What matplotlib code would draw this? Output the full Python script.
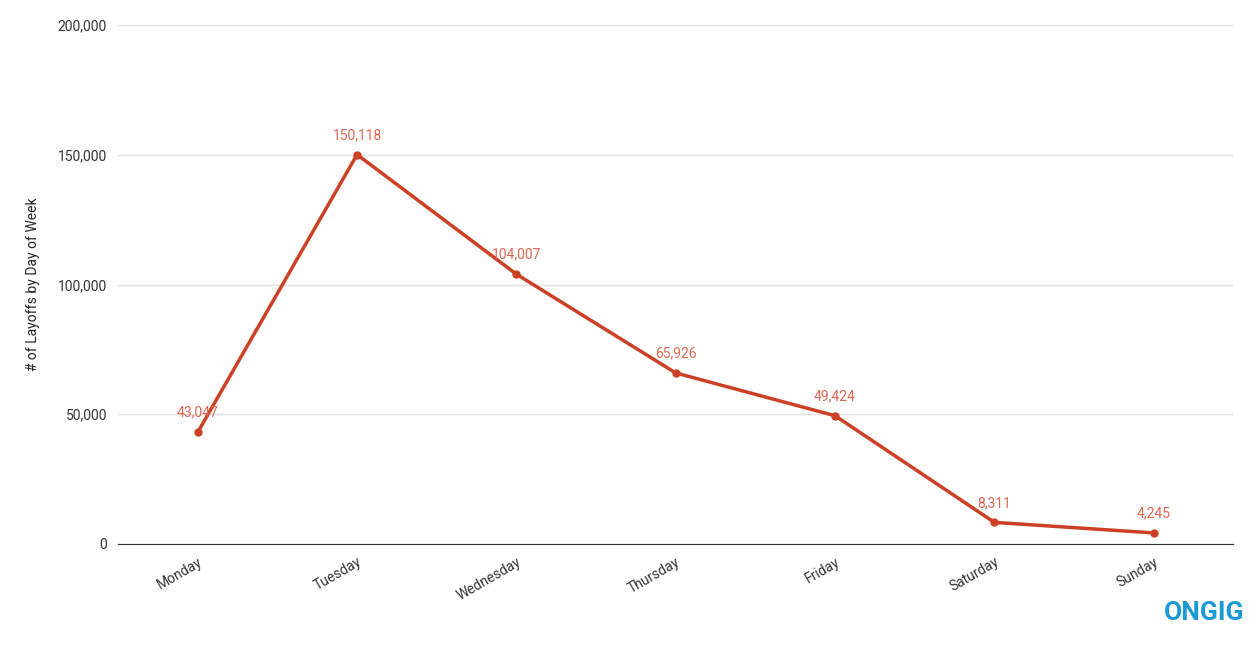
import matplotlib
matplotlib.use("Agg")
import matplotlib.pyplot as plt

days = ["Monday", "Tuesday", "Wednesday", "Thursday", "Friday", "Saturday", "Sunday"]
layoffs = [43047, 150118, 104007, 65926, 49424, 8311, 4245]
yticks = [0, 50000, 100000, 150000, 200000]

plt.rcParams['font.family'] = ['Roboto', 'DejaVu Sans']

fig = plt.figure(figsize=(12.56, 6.46), dpi=100)
ax = fig.add_axes([0.094, 0.158, 0.888, 0.803])

x = list(range(len(days)))
ax.plot(x, layoffs, color='#cc4125', lw=2.5, marker='o', ms=5, zorder=3)
for xi, v in zip(x, layoffs):
    ax.annotate(f"{v:,}", (xi, v), xytext=(0, 9), textcoords='offset points',
                ha='center', va='bottom', fontsize=10, color='#e0664f')

ax.set_xlim(-0.5, len(days) - 0.5)
ax.set_ylim(0, 200000)
ax.set_yticks(yticks)
ax.set_yticklabels([f"{t:,}" for t in yticks], fontsize=10, color='#333333')
ax.set_xticks(x)
ax.set_xticklabels(days, rotation=30, ha='right', rotation_mode='anchor', fontsize=10, color='#333333')
ax.grid(axis='y', color='#e0e0e0', lw=1)
ax.set_axisbelow(True)
for s in ['top', 'right', 'left']:
    ax.spines[s].set_visible(False)
ax.spines['bottom'].set_color('#333333')
ax.tick_params(length=0, pad=8)
ax.set_ylabel("# of Layoffs by Day of Week", fontsize=10, color='#222222')
ax.yaxis.set_label_coords(-0.07, 0.5)

fig.text(0.991, 0.033, "ONGIG", ha='right', va='bottom', fontsize=19, fontweight='bold', color='#1b9ad6')

fig.savefig("out.png", dpi=100, facecolor='white')
